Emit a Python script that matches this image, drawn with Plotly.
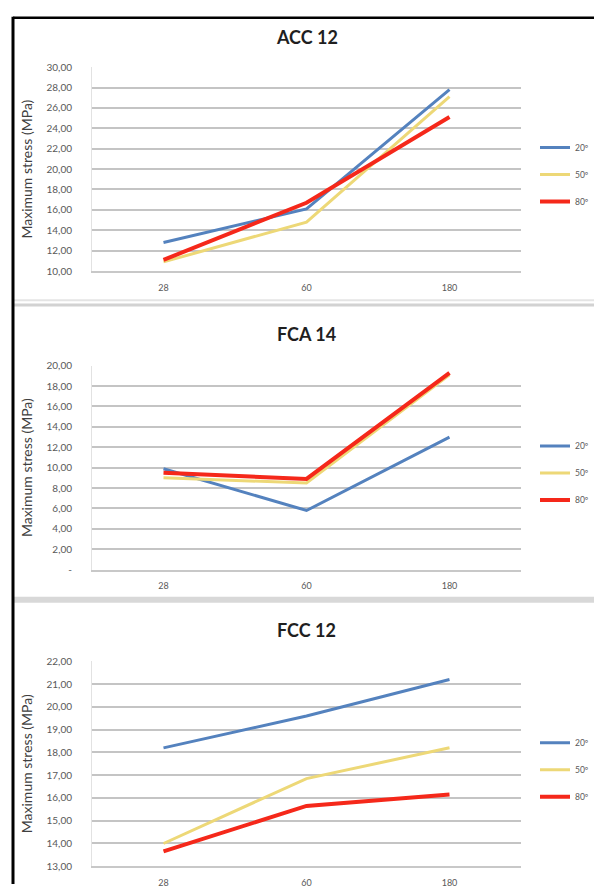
import plotly.graph_objects as go

# ---- data ----
ages = ["28", "60", "180"]
series_names = ["20º", "50º", "80º"]

acc12_20 = [12.8, 16.1, 27.8]
acc12_50 = [10.9, 14.8, 27.1]
acc12_80 = [11.1, 16.7, 25.1]

fca14_20 = [9.9, 5.8, 13.0]
fca14_50 = [9.0, 8.5, 19.1]
fca14_80 = [9.5, 8.9, 19.3]

fcc12_20 = [18.2, 19.6, 21.2]
fcc12_50 = [14.0, 16.85, 18.2]
fcc12_80 = [13.65, 15.65, 16.15]

panel_titles = ["ACC 12", "FCA 14", "FCC 12"]

acc_ticks = [10, 12, 14, 16, 18, 20, 22, 24, 26, 28, 30]
acc_ticktext = ["10,00", "12,00", "14,00", "16,00", "18,00", "20,00", "22,00", "24,00", "26,00", "28,00", "30,00"]
fca_ticks = [0, 2, 4, 6, 8, 10, 12, 14, 16, 18, 20]
fca_ticktext = ["-", "2,00", "4,00", "6,00", "8,00", "10,00", "12,00", "14,00", "16,00", "18,00", "20,00"]
fcc_ticks = [13, 14, 15, 16, 17, 18, 19, 20, 21, 22]
fcc_ticktext = ["13,00", "14,00", "15,00", "16,00", "17,00", "18,00", "19,00", "20,00", "21,00", "22,00"]

y_title = "Maximum stress (MPa)"

# ---- style ----
W, H = 594, 890
colors = ["#5482BE", "#EDD877", "#F5281A"]
widths = [3, 3, 4]
FONT = "Lato, 'Open Sans', sans-serif"
TICKC = "#595959"

panels = [
    dict(data=[acc12_20, acc12_50, acc12_80], ticks=acc_ticks, text=acc_ticktext,
         rng=[10, 30], top=61, bot=268, title_y=30, leg_y=170),
    dict(data=[fca14_20, fca14_50, fca14_80], ticks=fca_ticks, text=fca_ticktext,
         rng=[0, 20], top=364, bot=571, title_y=332, leg_y=473),
    dict(data=[fcc12_20, fcc12_50, fcc12_80], ticks=fcc_ticks, text=fcc_ticktext,
         rng=[13, 22], top=664, bot=872, title_y=632, leg_y=774),
]

x0, x1 = 92 / W, 521 / W

fig = go.Figure()
layout = dict(width=W, height=H, margin=dict(l=0, r=0, t=0, b=0),
              paper_bgcolor="white", plot_bgcolor="white", showlegend=True,
              font=dict(family=FONT, color=TICKC))
annotations = []
shapes = []

for i, p in enumerate(panels):
    sfx = "" if i == 0 else str(i + 1)
    xa, ya = "x" + sfx, "y" + sfx
    legname = "legend" + sfx
    for j in range(3):
        fig.add_trace(go.Scatter(
            x=ages, y=p["data"][j], mode="lines", name=series_names[j],
            line=dict(color=colors[j], width=widths[j]),
            xaxis=xa, yaxis=ya, legend=legname, legendgroup=f"g{i}{j}",
        ))
    dom_y = [1 - p["bot"] / H, 1 - p["top"] / H]
    layout["xaxis" + sfx] = dict(
        domain=[x0, x1], anchor=ya, type="category", range=[-0.5, 2.5],
        showgrid=False, zeroline=False, showline=True, linecolor="#c8c8c8", linewidth=1.5,
        tickfont=dict(size=9, color=TICKC, family=FONT),
        ticks="outside", ticklen=7, tickcolor="rgba(0,0,0,0)",
        fixedrange=True,
    )
    layout["yaxis" + sfx] = dict(
        domain=dom_y, anchor=xa, range=p["rng"], tickvals=p["ticks"], ticktext=p["text"],
        showgrid=True, gridcolor="#c4c4c4", gridwidth=1.5, zeroline=False,
        showline=True, linecolor="#e2e2e2", linewidth=1,
        tickfont=dict(size=10, color=TICKC, family=FONT),
        ticks="outside", ticklen=17, tickcolor="rgba(0,0,0,0)",
        title=dict(text=y_title, font=dict(size=14, color="#404040", family=FONT), standoff=10),
        fixedrange=True,
    )
    layout[legname] = dict(
        x=535 / W, xanchor="left", y=1 - p["leg_y"] / H, yanchor="middle",
        bgcolor="rgba(0,0,0,0)", borderwidth=0, tracegroupgap=8,
        font=dict(size=8.5, color=TICKC, family=FONT), itemwidth=30,
    )
    annotations.append(dict(
        text="<b>" + panel_titles[i] + "</b>", xref="paper", yref="paper",
        x=(x0 + x1) / 2, y=1 - p["title_y"] / H, xanchor="center", yanchor="middle",
        showarrow=False, font=dict(size=18, color="#1f1f1f", family=FONT),
    ))

# separators between panels and outer frame
def hline(y, color, w):
    shapes.append(dict(type="line", xref="paper", yref="paper", x0=14 / W, x1=1,
                       y0=1 - y / H, y1=1 - y / H, line=dict(color=color, width=w)))

hline(297.5, "#e4e4e4", 2)
hline(302.5, "#d2d2d2", 3)
hline(601.5, "#d8d8d8", 6)
shapes.append(dict(type="line", xref="paper", yref="paper", x0=13 / W, x1=1,
                   y0=1 - 11 / H, y1=1 - 11 / H, line=dict(color="black", width=2.5)))
shapes.append(dict(type="line", xref="paper", yref="paper", x0=13 / W, x1=13 / W,
                   y0=0, y1=1 - 10 / H, line=dict(color="black", width=3)))

layout["annotations"] = annotations
layout["shapes"] = shapes
fig.update_layout(**layout)

fig.write_html("out.html", config={"displayModeBar": False},
               post_script="document.body.style.margin='0';document.body.style.overflow='hidden';")
